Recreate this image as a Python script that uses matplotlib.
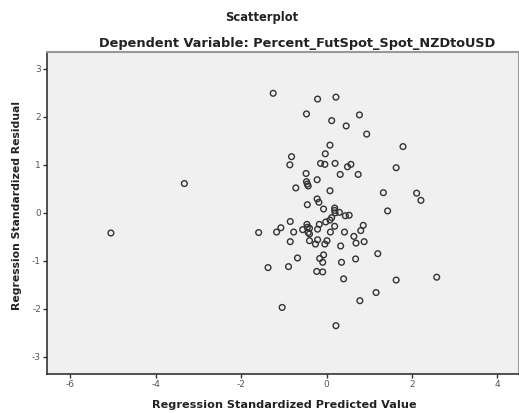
import matplotlib.pyplot as plt

# standardized predicted values vs standardized residuals
pred = [-5.05, -3.33, -1.59, -1.37, -1.25, -1.17, -1.07, -1.04, -0.89, -0.85,
        -0.85, -0.82, -0.86, -0.77, -0.72, -0.68, -0.56, -0.48, -0.47, -0.47,
        -0.45, -0.43, -0.45, -0.46, -0.45, -0.40, -0.43, -0.40, -0.40, -0.26,
        -0.23, -0.22, -0.22, -0.18, -0.21, -0.21, -0.21, -0.17, -0.16, -0.14,
        -0.09, -0.09, -0.07, -0.07, -0.04, -0.04, -0.03, -0.02, 0.01, 0.08,
        0.08, 0.08, 0.09, 0.12, 0.12, 0.19, 0.19, 0.20, 0.19, 0.20,
        0.22, 0.22, 0.30, 0.32, 0.33, 0.35, 0.40, 0.42, 0.44, 0.46,
        0.49, 0.53, 0.57, 0.64, 0.68, 0.69, 0.74, 0.77, 0.78, 0.80,
        0.86, 0.88, 0.94, 1.16, 1.20, 1.33, 1.43, 1.63, 1.63, 1.79,
        2.11, 2.21, 2.58]
resid = [-0.42, 0.61, -0.41, -1.14, 2.49, -0.40, -0.31, -1.97, -1.12, -0.60,
         -0.18, 1.17, 1.00, -0.40, 0.52, -0.94, -0.35, 0.82, 2.06, 0.65,
         0.60, 0.56, 0.17, -0.24, -0.30, -0.32, -0.41, -0.44, -0.58, -0.65,
         -1.22, 0.69, 0.29, 0.22, 2.37, -0.34, -0.56, -0.24, -0.95, 1.03,
         -1.03, -1.23, -0.875, 0.08, 1.01, -0.65, 1.23, -0.19, -0.58, 1.41,
         0.46, -0.15, -0.40, 1.92, -0.10, 0.10, 0.05, 0.00, -0.28, 1.03,
         2.41, -2.35, 0.01, 0.80, -0.69, -1.03, -1.375, -0.40, -0.06, 1.81,
         0.96, -0.05, 1.01, -0.49, -0.96, -0.63, 0.80, 2.04, -1.83, -0.37,
         -0.26, -0.60, 1.64, -1.66, -0.85, 0.42, 0.04, 0.94, -1.40, 1.38,
         0.41, 0.26, -1.34]

x_ticks = [-6, -4, -2, 0, 2, 4]
y_ticks = [-3, -2, -1, 0, 1, 2, 3]

W, H = 519, 413
fig = plt.figure(figsize=(W / 100, H / 100), dpi=100)
ax = fig.add_axes([47.3 / W, 1 - 373.7 / H, (518.7 - 47.3) / W, (373.7 - 52) / H])
ax.set_facecolor('#f0f0f0')

ax.scatter(pred, resid, s=17, facecolors='none', edgecolors='#333333', linewidths=1.0)

ax.set_xlim(-6.54, 4.5)
ax.set_ylim(-3.35, 3.35)
ax.set_xticks(x_ticks)
ax.set_yticks(y_ticks)
ax.set_xticklabels([str(t) for t in x_ticks])
ax.set_yticklabels([str(t) for t in y_ticks])
ax.tick_params(labelsize=6.5, labelcolor='#555555', length=3, width=1, color='#333333', pad=1.5)

for s in ['left', 'bottom']:
    ax.spines[s].set_color('#333333')
    ax.spines[s].set_linewidth(1.2)
for s in ['top', 'right']:
    ax.spines[s].set_color('#999999')
    ax.spines[s].set_linewidth(1.5)

txt = dict(ha='center', va='center', family='DejaVu Sans', fontweight='bold', color='#222222')
fig.text(262 / W, 1 - 17 / H, 'Scatterplot', fontsize=8.3, **txt)
fig.text(297 / W, 1 - 43 / H, 'Dependent Variable: Percent_FutSpot_Spot_NZDtoUSD', fontsize=9.3, **txt)
fig.text(284 / W, 1 - 405 / H, 'Regression Standardized Predicted Value', fontsize=8.1, **txt)
fig.text(17 / W, 1 - 205 / H, 'Regression Standardized Residual', rotation=90, fontsize=7.8, **txt)

fig.savefig('out.png', dpi=100, facecolor='white')
